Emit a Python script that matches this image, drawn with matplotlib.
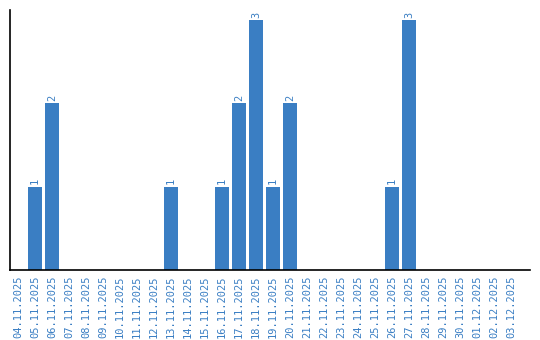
import matplotlib
matplotlib.use("Agg")
import matplotlib.pyplot as plt

# dates and counts
dates = ["04.11.2025", "05.11.2025", "06.11.2025", "07.11.2025", "08.11.2025",
         "09.11.2025", "10.11.2025", "11.11.2025", "12.11.2025", "13.11.2025",
         "14.11.2025", "15.11.2025", "16.11.2025", "17.11.2025", "18.11.2025",
         "19.11.2025", "20.11.2025", "21.11.2025", "22.11.2025", "23.11.2025",
         "24.11.2025", "25.11.2025", "26.11.2025", "27.11.2025", "28.11.2025",
         "29.11.2025", "30.11.2025", "01.12.2025", "02.12.2025", "03.12.2025"]
counts = [0, 1, 2, 0, 0, 0, 0, 0, 0, 1,
          0, 0, 1, 2, 3, 1, 2, 0, 0, 0,
          0, 0, 1, 3, 0, 0, 0, 0, 0, 0]

blue = "#3a7ec3"

fig = plt.figure(figsize=(5.4, 3.4), dpi=100)
ax = fig.add_axes([10/540, 70/340, 520/540, 260/340])

x = list(range(len(dates)))
ax.bar(x, counts, width=0.82, color=blue)

for xi, c in zip(x, counts):
    if c > 0:
        ax.text(xi, c + 0.03, str(c), rotation=90, ha="center", va="bottom",
                color=blue, fontsize=7.5, family="DejaVu Sans Mono")

ax.set_xlim(-0.47, 30.1)
ax.set_ylim(0, 3.12)
ax.set_xticks(x)
ax.set_xticklabels(dates, rotation=90, color=blue, fontsize=7.5,
                   family="DejaVu Sans Mono")
ax.tick_params(axis="x", length=0, pad=4)
ax.set_yticks([])
for s in ["top", "right"]:
    ax.spines[s].set_visible(False)
ax.spines["left"].set_linewidth(1.2)
ax.spines["bottom"].set_linewidth(1.2)

fig.savefig("out.png", dpi=100)
